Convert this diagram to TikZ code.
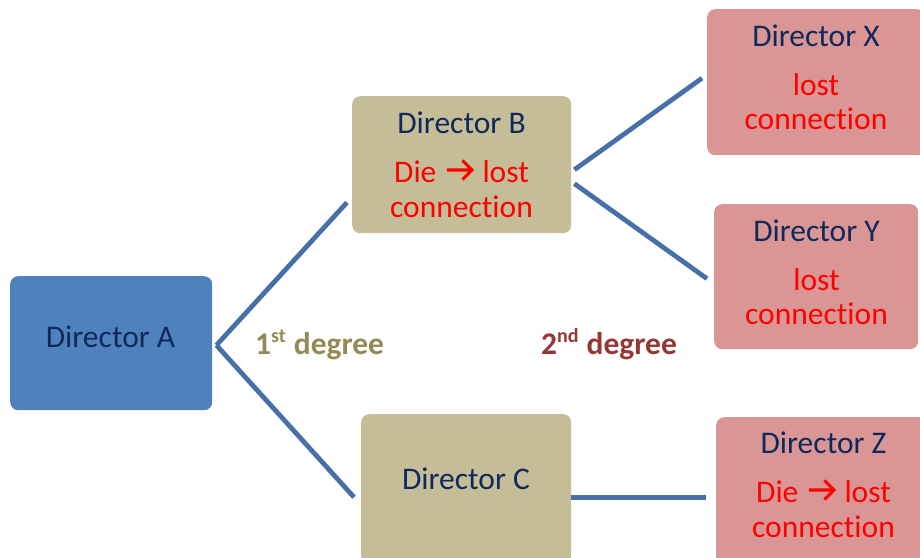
\documentclass[tikz,border=0pt]{standalone}
\usepackage{fontspec}
\setmainfont[Ligatures=NoCommon]{Carlito}
\usetikzlibrary{calc}

\definecolor{boxblue}{HTML}{4F81BD}
\definecolor{boxtan}{HTML}{C4BD97}
\definecolor{boxpink}{HTML}{D99694}
\definecolor{navytext}{HTML}{10295C}
\definecolor{redtext}{HTML}{FF0000}
\definecolor{linkblue}{HTML}{4870A8}
\definecolor{firstdeg}{HTML}{948A54}
\definecolor{seconddeg}{HTML}{953735}

% inline arrow used in "Die -> lost"
\newcommand{\diearrow}{\tikz[x=1pt,y=1pt,baseline=0pt]{%
  \draw[line width=3.1pt,line cap=butt,line join=miter,redtext]
    (0,12) -- (25,12) (15.5,2.5) -- (25,12) -- (15.5,21.5);}}

\tikzset{
  dirbox/.style={rounded corners=8pt, inner sep=0pt, anchor=north west, draw=none},
  lbl/.style={anchor=base, inner sep=0pt, font=\fontsize{31.5}{35}\selectfont, text=navytext},
  redlbl/.style={lbl, text=redtext},
  link/.style={draw=linkblue, line width=4.8pt, line cap=butt},
  deg/.style={anchor=base west, inner sep=0pt, font=\bfseries\fontsize{31.5}{35}\selectfont},
}

\newcommand{\supx}[1]{\raisebox{12pt}{\fontsize{20}{20}\selectfont #1}}

\begin{document}
\begin{tikzpicture}[x=1pt,y=-1pt]
  \useasboundingbox (0,0) rectangle (920,557);
  \clip (0,0) rectangle (920,557);

  % boxes
  \node[dirbox, fill=boxblue, minimum width=202pt, minimum height=134pt] (A) at (10,276) {};
  \node[dirbox, fill=boxtan,  minimum width=219pt, minimum height=137pt] (B) at (352,96) {};
  \node[dirbox, fill=boxtan,  minimum width=210pt, minimum height=150pt] (C) at (361,414) {};
  \node[dirbox, fill=boxpink, minimum width=218pt, minimum height=146pt] (X) at (707,9) {};
  \node[dirbox, fill=boxpink, minimum width=204pt, minimum height=145pt] (Y) at (714,204) {};
  \node[dirbox, fill=boxpink, minimum width=215pt, minimum height=150pt] (Z) at (716,417) {};

  % connectors
  \draw[link] ($(A.east)+(4,2)$) -- ($(B.south west)+(-5,-31)$);
  \draw[link] ($(A.east)+(4,2)$) -- ($(C.west)+(-7,8)$);
  \draw[link] ($(B.east)+(3,5)$) -- ($(X.west)+(-5,-4)$);
  \draw[link] ($(B.east)+(3,19)$) -- ($(Y.west)+(-7,2)$);
  \draw[link] ($(C.east)+(0,8)$) -- ($(Z.west)+(-10,5)$);

  % box texts
  \node[lbl] (Atxt) at (110.5,347) {Director A};

  \node[lbl] (Btxt) at (461.5,133) {Director B};
  \node[redlbl] (Bdie) at (461.5,182) {Die\hspace{9pt}\diearrow\hspace{9pt}lost};
  \node[redlbl] (Bcon) at (461.5,217) {connection};

  \node[lbl] (Ctxt) at (466,489) {Director C};

  \node[lbl] (Xtxt) at (816,46) {Director X};
  \node[redlbl] (Xlost) at (816,95) {lost};
  \node[redlbl] (Xcon) at (816,129) {connection};

  \node[lbl] (Ytxt) at (816.5,241) {Director Y};
  \node[redlbl] (Ylost) at (816.5,290) {lost};
  \node[redlbl] (Ycon) at (816.5,324) {connection};

  \node[lbl] (Ztxt) at (823.5,453) {Director Z};
  \node[redlbl] (Zdie) at (823.5,502) {Die\hspace{9pt}\diearrow\hspace{9pt}lost};
  \node[redlbl] (Zcon) at (823.5,537) {connection};

  % degree labels
  \node[deg, text=firstdeg] (first) at (255,354) {1\supx{st}\hspace{8pt}degree};
  \node[deg, text=seconddeg] (second) at (541,354) {2\supx{nd}\hspace{8pt}degree};
\end{tikzpicture}
\end{document}
